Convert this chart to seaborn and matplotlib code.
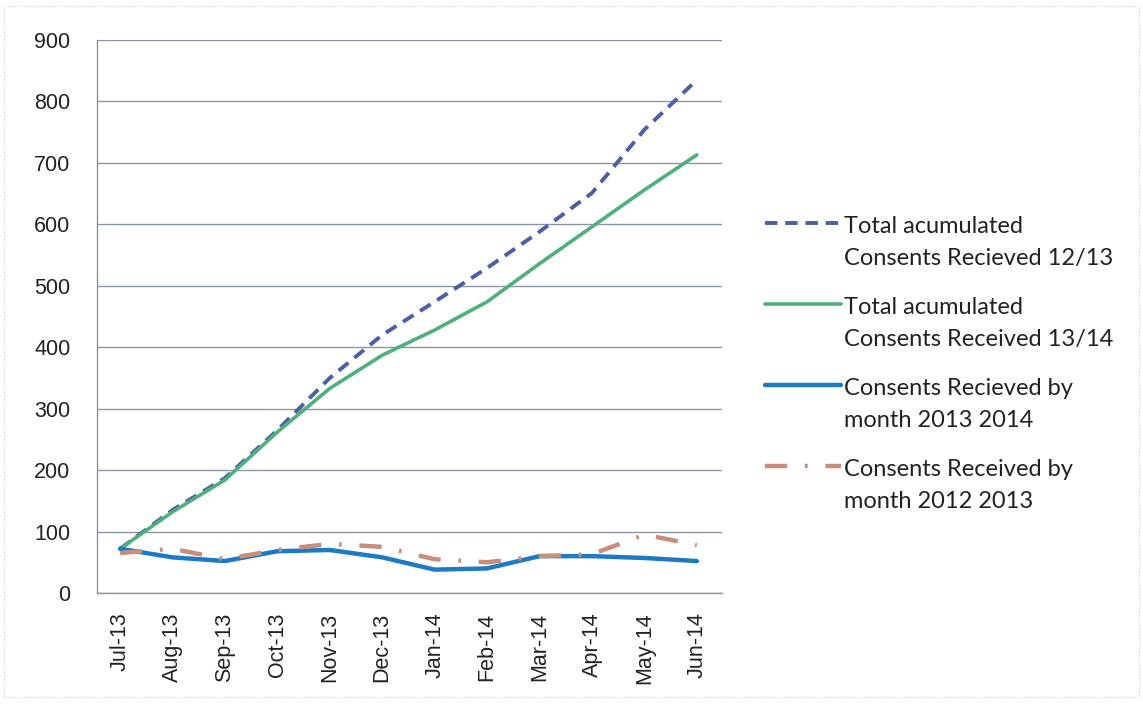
import matplotlib
matplotlib.use("Agg")
import matplotlib.pyplot as plt
import seaborn as sns
import pandas as pd
from matplotlib.patches import Rectangle
from matplotlib.legend_handler import HandlerLine2D

months = ["Jul-13", "Aug-13", "Sep-13", "Oct-13", "Nov-13", "Dec-13",
          "Jan-14", "Feb-14", "Mar-14", "Apr-14", "May-14", "Jun-14"]
cum_1213 = [72, 135, 187, 265, 350, 420, 474, 529, 588, 651, 754, 835]
cum_1314 = [72, 132, 184, 262, 333, 387, 428, 474, 536, 596, 656, 713]
month_1314 = [72, 58, 52, 68, 70, 58, 38, 40, 60, 60, 57, 52]
month_1213 = [65, 72, 55, 70, 80, 75, 55, 50, 60, 63, 95, 78]

labels = ["Total acumulated\nConsents Recieved 12/13",
          "Total acumulated\nConsents Received 13/14",
          "Consents Recieved by\nmonth 2013 2014",
          "Consents Received by\nmonth 2012 2013"]

sns.set_theme(style="white")
plt.rcParams['font.family'] = ['Liberation Sans', 'DejaVu Sans']

fig = plt.figure(figsize=(11.43, 7.05), dpi=100)
ax = fig.add_axes([97/1143, 1-593/705, (722-97)/1143, (593-40)/705])

x = list(range(len(months)))
series = [
    (cum_1213, "#4b5ea6", (0, (3.2, 2.0)), 2.8),
    (cum_1314, "#4fb07e", "-", 2.6),
    (month_1314, "#1c7bc4", "-", 3.2),
    (month_1213, "#c98d7c", (0, (5, 4, 0.6, 4)), 3.2),
]
for (vals, color, ls, lw), lab in zip(series, labels):
    df = pd.DataFrame({"x": x, "y": vals})
    sns.lineplot(data=df, x="x", y="y", ax=ax, color=color, linewidth=lw,
                 linestyle=ls, label=lab, legend=False)

ax.set_xlim(-0.44, 11.48)
ax.set_ylim(0, 900)
ax.set_yticks(range(0, 901, 100))
ax.set_xticks(x)
ax.set_xticklabels(months, rotation=90, fontsize=15.5)
ax.tick_params(axis="y", labelsize=15.5, length=0, pad=19)
ax.tick_params(axis="x", length=0, pad=14)
ax.set_xlabel("")
ax.set_ylabel("")
ax.yaxis.grid(True, color="#8c95a3", linewidth=1.0)
ax.set_axisbelow(True)
for s in ["top", "right"]:
    ax.spines[s].set_visible(False)
for s in ["left", "bottom"]:
    ax.spines[s].set_color("#8c95a3")
    ax.spines[s].set_linewidth(1.0)
for t in ax.get_xticklabels() + ax.get_yticklabels():
    t.set_color("#222222")


class TopHandler(HandlerLine2D):
    def create_artists(self, legend, orig_handle, xdescent, ydescent,
                       width, height, fontsize, trans):
        arts = super().create_artists(legend, orig_handle, xdescent, ydescent,
                                      width, height, fontsize, trans)
        for a in arts:
            yd = a.get_ydata()
            a.set_ydata([v + 0.84 * fontsize for v in yd])
        return arts


fs = 17
h, l = ax.get_legend_handles_labels()
leg = fig.legend(h, l, loc="upper left", bbox_to_anchor=(744/1143, 1-195/705),
                 frameon=False, handlelength=3.2, handletextpad=0.15,
                 labelspacing=1.18, prop={"family": "Lato", "size": fs},
                 handler_map={type(h[0]): TopHandler()})
for t in leg.get_texts():
    t.set_color("#222222")
    t.set_linespacing(1.65)

fig.patches.append(Rectangle((4/1143, 8/705), 1-8/1143, 1-14/705,
                             transform=fig.transFigure, fill=False,
                             edgecolor="#c8c8c8", linestyle=(0, (1, 2)),
                             linewidth=0.8))

fig.savefig("out.png", dpi=100)
